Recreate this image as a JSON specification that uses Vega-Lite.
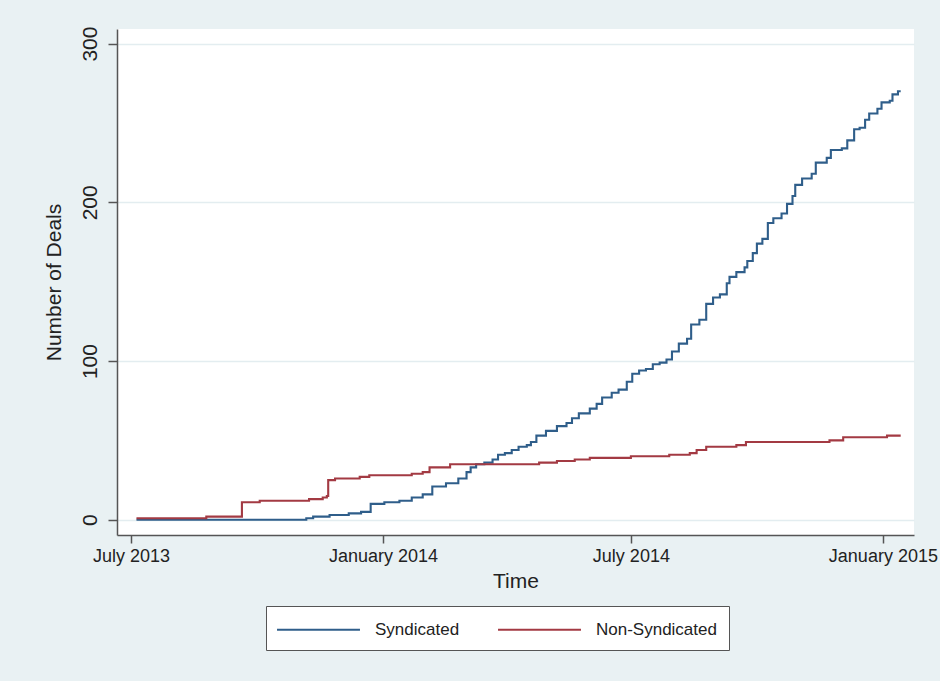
{
  "$schema": "https://vega.github.io/schema/vega-lite/v6.json",
  "autosize": {"type": "none"},
  "padding": {"left": 117, "top": 29, "right": 26, "bottom": 146},
  "width": 797,
  "height": 506,
  "background": "#E9F1F3",
  "config": {
    "view": {"stroke": null, "fill": "white"},
    "font": "Liberation Sans",
    "axis": {"labelFont": "Liberation Sans", "titleFont": "Liberation Sans", "labelColor": "#222", "titleColor": "#222", "titleFontWeight": "normal", "domainColor": "#555", "tickColor": "#555", "domainWidth": 1.5, "tickWidth": 1.5},
    "legend": {"labelFont": "Liberation Sans", "labelColor": "#222"}
  },
  "data": {
    "values": [
      {"date": "2013-07-05T00:00", "deals": 0, "series": "Syndicated"},
      {"date": "2013-11-06T00:00", "deals": 1, "series": "Syndicated"},
      {"date": "2013-11-11T00:00", "deals": 2, "series": "Syndicated"},
      {"date": "2013-11-23T00:00", "deals": 3, "series": "Syndicated"},
      {"date": "2013-12-07T00:00", "deals": 4, "series": "Syndicated"},
      {"date": "2013-12-16T00:00", "deals": 5, "series": "Syndicated"},
      {"date": "2013-12-23T00:00", "deals": 10, "series": "Syndicated"},
      {"date": "2014-01-02T00:00", "deals": 11, "series": "Syndicated"},
      {"date": "2014-01-13T00:00", "deals": 12, "series": "Syndicated"},
      {"date": "2014-01-22T00:00", "deals": 14, "series": "Syndicated"},
      {"date": "2014-01-30T00:00", "deals": 16, "series": "Syndicated"},
      {"date": "2014-02-06T00:00", "deals": 21, "series": "Syndicated"},
      {"date": "2014-02-16T00:00", "deals": 23, "series": "Syndicated"},
      {"date": "2014-02-25T00:00", "deals": 26, "series": "Syndicated"},
      {"date": "2014-03-03T00:00", "deals": 30, "series": "Syndicated"},
      {"date": "2014-03-06T00:00", "deals": 33, "series": "Syndicated"},
      {"date": "2014-03-10T00:00", "deals": 35, "series": "Syndicated"},
      {"date": "2014-03-16T00:00", "deals": 36, "series": "Syndicated"},
      {"date": "2014-03-22T00:00", "deals": 38, "series": "Syndicated"},
      {"date": "2014-03-26T00:00", "deals": 41, "series": "Syndicated"},
      {"date": "2014-03-31T00:00", "deals": 42, "series": "Syndicated"},
      {"date": "2014-04-05T00:00", "deals": 44, "series": "Syndicated"},
      {"date": "2014-04-10T00:00", "deals": 46, "series": "Syndicated"},
      {"date": "2014-04-16T00:00", "deals": 47, "series": "Syndicated"},
      {"date": "2014-04-19T00:00", "deals": 49, "series": "Syndicated"},
      {"date": "2014-04-23T00:00", "deals": 53, "series": "Syndicated"},
      {"date": "2014-04-30T00:00", "deals": 56, "series": "Syndicated"},
      {"date": "2014-05-08T00:00", "deals": 59, "series": "Syndicated"},
      {"date": "2014-05-15T00:00", "deals": 61, "series": "Syndicated"},
      {"date": "2014-05-19T00:00", "deals": 64, "series": "Syndicated"},
      {"date": "2014-05-24T00:00", "deals": 67, "series": "Syndicated"},
      {"date": "2014-06-01T00:00", "deals": 70, "series": "Syndicated"},
      {"date": "2014-06-06T00:00", "deals": 73, "series": "Syndicated"},
      {"date": "2014-06-10T00:00", "deals": 77, "series": "Syndicated"},
      {"date": "2014-06-17T00:00", "deals": 80, "series": "Syndicated"},
      {"date": "2014-06-22T00:00", "deals": 82, "series": "Syndicated"},
      {"date": "2014-06-28T00:00", "deals": 87, "series": "Syndicated"},
      {"date": "2014-07-02T00:00", "deals": 92, "series": "Syndicated"},
      {"date": "2014-07-07T00:00", "deals": 94, "series": "Syndicated"},
      {"date": "2014-07-12T00:00", "deals": 95, "series": "Syndicated"},
      {"date": "2014-07-17T00:00", "deals": 98, "series": "Syndicated"},
      {"date": "2014-07-22T00:00", "deals": 99, "series": "Syndicated"},
      {"date": "2014-07-27T00:00", "deals": 101, "series": "Syndicated"},
      {"date": "2014-07-31T00:00", "deals": 106, "series": "Syndicated"},
      {"date": "2014-08-05T00:00", "deals": 111, "series": "Syndicated"},
      {"date": "2014-08-11T00:00", "deals": 114, "series": "Syndicated"},
      {"date": "2014-08-14T00:00", "deals": 123, "series": "Syndicated"},
      {"date": "2014-08-20T00:00", "deals": 126, "series": "Syndicated"},
      {"date": "2014-08-25T00:00", "deals": 136, "series": "Syndicated"},
      {"date": "2014-08-30T00:00", "deals": 140, "series": "Syndicated"},
      {"date": "2014-09-04T00:00", "deals": 142, "series": "Syndicated"},
      {"date": "2014-09-09T00:00", "deals": 149, "series": "Syndicated"},
      {"date": "2014-09-11T00:00", "deals": 153, "series": "Syndicated"},
      {"date": "2014-09-16T00:00", "deals": 156, "series": "Syndicated"},
      {"date": "2014-09-22T00:00", "deals": 159, "series": "Syndicated"},
      {"date": "2014-09-24T00:00", "deals": 163, "series": "Syndicated"},
      {"date": "2014-09-28T00:00", "deals": 168, "series": "Syndicated"},
      {"date": "2014-10-01T00:00", "deals": 174, "series": "Syndicated"},
      {"date": "2014-10-05T00:00", "deals": 177, "series": "Syndicated"},
      {"date": "2014-10-09T00:00", "deals": 187, "series": "Syndicated"},
      {"date": "2014-10-13T00:00", "deals": 190, "series": "Syndicated"},
      {"date": "2014-10-19T00:00", "deals": 193, "series": "Syndicated"},
      {"date": "2014-10-23T00:00", "deals": 199, "series": "Syndicated"},
      {"date": "2014-10-27T00:00", "deals": 204, "series": "Syndicated"},
      {"date": "2014-10-29T00:00", "deals": 211, "series": "Syndicated"},
      {"date": "2014-11-03T00:00", "deals": 215, "series": "Syndicated"},
      {"date": "2014-11-10T00:00", "deals": 218, "series": "Syndicated"},
      {"date": "2014-11-13T00:00", "deals": 225, "series": "Syndicated"},
      {"date": "2014-11-21T00:00", "deals": 228, "series": "Syndicated"},
      {"date": "2014-11-24T00:00", "deals": 233, "series": "Syndicated"},
      {"date": "2014-12-02T00:00", "deals": 234, "series": "Syndicated"},
      {"date": "2014-12-06T00:00", "deals": 239, "series": "Syndicated"},
      {"date": "2014-12-11T00:00", "deals": 246, "series": "Syndicated"},
      {"date": "2014-12-15T00:00", "deals": 247, "series": "Syndicated"},
      {"date": "2014-12-19T00:00", "deals": 252, "series": "Syndicated"},
      {"date": "2014-12-22T00:00", "deals": 256, "series": "Syndicated"},
      {"date": "2014-12-28T00:00", "deals": 259, "series": "Syndicated"},
      {"date": "2014-12-31T00:00", "deals": 263, "series": "Syndicated"},
      {"date": "2015-01-06T00:00", "deals": 264, "series": "Syndicated"},
      {"date": "2015-01-08T00:00", "deals": 268, "series": "Syndicated"},
      {"date": "2015-01-12T00:00", "deals": 270, "series": "Syndicated"},
      {"date": "2015-01-14T00:00", "deals": 270, "series": "Syndicated"},
      {"date": "2013-07-05T00:00", "deals": 1, "series": "Non-Syndicated"},
      {"date": "2013-08-25T00:00", "deals": 2, "series": "Non-Syndicated"},
      {"date": "2013-09-20T00:00", "deals": 11, "series": "Non-Syndicated"},
      {"date": "2013-10-03T00:00", "deals": 12, "series": "Non-Syndicated"},
      {"date": "2013-11-08T00:00", "deals": 13, "series": "Non-Syndicated"},
      {"date": "2013-11-18T00:00", "deals": 14, "series": "Non-Syndicated"},
      {"date": "2013-11-21T00:00", "deals": 15, "series": "Non-Syndicated"},
      {"date": "2013-11-22T00:00", "deals": 25, "series": "Non-Syndicated"},
      {"date": "2013-11-27T00:00", "deals": 26, "series": "Non-Syndicated"},
      {"date": "2013-12-15T00:00", "deals": 27, "series": "Non-Syndicated"},
      {"date": "2013-12-22T00:00", "deals": 28, "series": "Non-Syndicated"},
      {"date": "2014-01-22T00:00", "deals": 29, "series": "Non-Syndicated"},
      {"date": "2014-01-30T00:00", "deals": 30, "series": "Non-Syndicated"},
      {"date": "2014-02-04T00:00", "deals": 33, "series": "Non-Syndicated"},
      {"date": "2014-02-19T00:00", "deals": 35, "series": "Non-Syndicated"},
      {"date": "2014-04-25T00:00", "deals": 36, "series": "Non-Syndicated"},
      {"date": "2014-05-08T00:00", "deals": 37, "series": "Non-Syndicated"},
      {"date": "2014-05-21T00:00", "deals": 38, "series": "Non-Syndicated"},
      {"date": "2014-06-01T00:00", "deals": 39, "series": "Non-Syndicated"},
      {"date": "2014-07-01T00:00", "deals": 40, "series": "Non-Syndicated"},
      {"date": "2014-07-29T00:00", "deals": 41, "series": "Non-Syndicated"},
      {"date": "2014-08-13T00:00", "deals": 42, "series": "Non-Syndicated"},
      {"date": "2014-08-18T00:00", "deals": 44, "series": "Non-Syndicated"},
      {"date": "2014-08-25T00:00", "deals": 46, "series": "Non-Syndicated"},
      {"date": "2014-09-16T00:00", "deals": 47, "series": "Non-Syndicated"},
      {"date": "2014-09-23T00:00", "deals": 49, "series": "Non-Syndicated"},
      {"date": "2014-11-23T00:00", "deals": 50, "series": "Non-Syndicated"},
      {"date": "2014-12-03T00:00", "deals": 52, "series": "Non-Syndicated"},
      {"date": "2015-01-04T00:00", "deals": 53, "series": "Non-Syndicated"},
      {"date": "2015-01-14T00:00", "deals": 53, "series": "Non-Syndicated"}
    ]
  },
  "mark": {"type": "line", "interpolate": "step-after", "strokeWidth": 2.1},
  "encoding": {
    "x": {
      "field": "date",
      "type": "temporal",
      "scale": {"domain": [{"year": 2013, "month": 6, "date": 20, "hours": 19}, {"year": 2015, "month": 1, "date": 23, "hours": 17}]},
      "axis": {
        "title": "Time",
        "values": [{"year": 2013, "month": 7, "date": 1}, {"year": 2014, "month": 1, "date": 1}, {"year": 2014, "month": 7, "date": 1}, {"year": 2015, "month": 1, "date": 1}],
        "format": "%B %Y",
        "grid": false,
        "tickSize": 8,
        "labelFontSize": 18,
        "labelPadding": 4,
        "labelOverlap": false,
        "labelFlush": false,
        "titleFontSize": 21,
        "titlePadding": 5
      }
    },
    "y": {
      "field": "deals",
      "type": "quantitative",
      "scale": {"domain": [-9.6, 309.2], "nice": false, "zero": false},
      "axis": {
        "title": "Number of Deals",
        "values": [0, 100, 200, 300],
        "grid": true,
        "gridColor": "#E3EDF0",
        "gridWidth": 1.5,
        "tickSize": 9,
        "labelAngle": -90,
        "labelFontSize": 21,
        "labelPadding": 8,
        "titleFontSize": 21,
        "titlePadding": 15
      }
    },
    "color": {
      "field": "series",
      "type": "nominal",
      "scale": {"domain": ["Syndicated", "Non-Syndicated"], "range": ["#2F5E8A", "#A33A43"]},
      "legend": {
        "title": null,
        "orient": "none",
        "legendX": 149,
        "legendY": 577,
        "direction": "horizontal",
        "symbolType": "M-4,0L4,0",
        "symbolSize": 430,
        "symbolOffset": 29,
        "symbolStrokeWidth": 1.8,
        "labelFontSize": 17,
        "labelOffset": 45,
        "columnPadding": 34,
        "padding": 12,
        "strokeColor": "#555",
        "fillColor": "white"
      }
    }
  }
}
